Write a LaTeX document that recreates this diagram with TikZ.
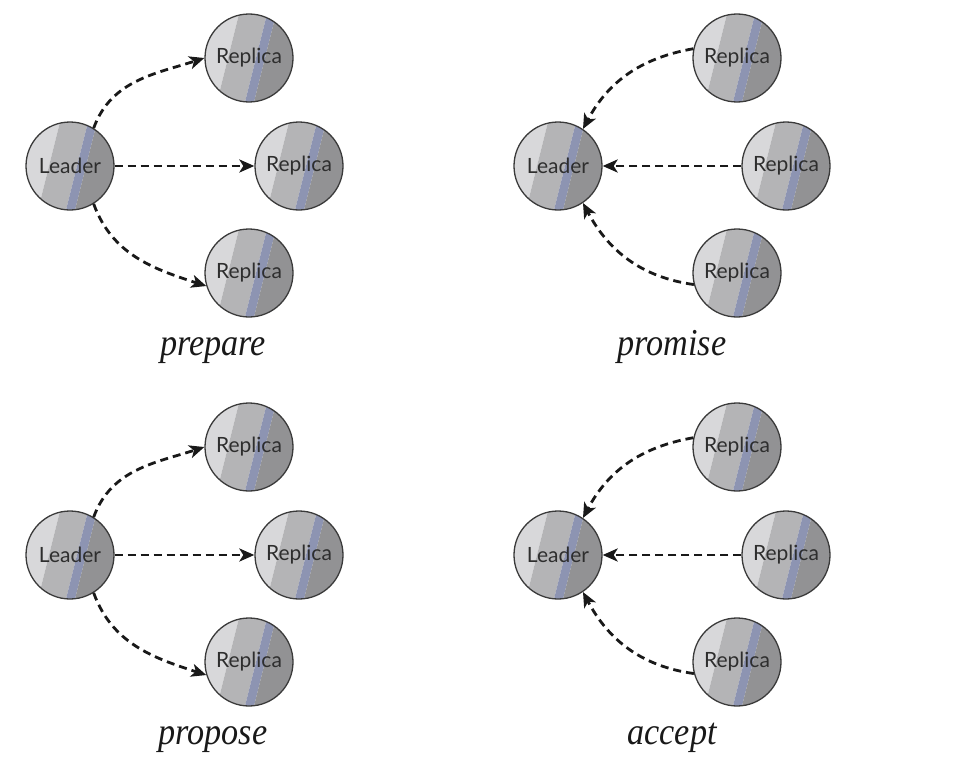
\documentclass[tikz,border=0pt]{standalone}
\usepackage{fontspec}
\usepackage{graphicx}
\usetikzlibrary{arrows.meta}
\newfontfamily\ballfont{Lato}
\newfontfamily\lblfont{Liberation Serif}
\definecolor{bLight}{HTML}{D8D8DA}
\definecolor{bMid}{HTML}{B4B4B6}
\definecolor{bBlue}{HTML}{8D94B2}
\definecolor{bDark}{HTML}{929294}
\definecolor{bRim}{HTML}{3A3A3A}
\definecolor{bText}{HTML}{2E2E2E}
\tikzset{
  ball/.style={circle, minimum size=88pt, inner sep=0pt, draw=bRim, line width=1.3pt,
    font=\ballfont\fontsize{21}{24}\selectfont, text=bText},
  msg/.style={-{Stealth[length=15pt,width=13pt,inset=4pt]}, line width=2.8pt,
    dash pattern=on 8pt off 5pt, black!90},
  phase/.style={anchor=base, font=\lblfont\fontsize{38}{40}\selectfont, text=black!90}
}
\newcommand{\phasetext}[1]{\scalebox{0.9}[1]{\itshape #1}}
% #1 name, #2 x, #3 y, #4 text
\newcommand{\ballnode}[4]{%
  \begin{scope}[shift={(#2,#3)}]
    \clip (0,0) circle (44);
    \fill[bLight] (-80,-60) -- (-6,-60) -- (-36,60) -- (-80,60) -- cycle;
    \fill[bMid] (-6,-60) -- (22,-60) -- (-8,60) -- (-36,60) -- cycle;
    \fill[bBlue] (22,-60) -- (31,-60) -- (1,60) -- (-8,60) -- cycle;
    \fill[bDark] (31,-60) -- (80,-60) -- (80,60) -- (1,60) -- cycle;
  \end{scope}
  \node[ball] (#1) at (#2,#3) {#4};}
\begin{document}
\begin{tikzpicture}[x=1pt,y=-1pt]
\useasboundingbox (0,0) rectangle (958,784);
% ---------- prepare ----------
\ballnode{pL}{70}{166}{Leader}
\ballnode{pR1}{249}{58}{Replica}
\ballnode{pR2}{299}{166}{Replica}
\ballnode{pR3}{249}{273}{Replica}
\node[phase] (pT) at (213,355) {\phasetext{prepare}};
\draw[msg] (pL.58) to[out=70,in=198] (pR1.180);
\draw[msg] (pL.east) -- (pR2.west);
\draw[msg] (pL.-58) to[out=-70,in=162] (pR3.197);
% ---------- promise ----------
\ballnode{mL}{558}{166}{Leader}
\ballnode{mR1}{737}{58}{Replica}
\ballnode{mR2}{786}{166}{Replica}
\ballnode{mR3}{737}{273}{Replica}
\node[phase] (mT) at (672,355) {\phasetext{promise}};
\draw[msg] (mR1.168) to[out=190,in=62] (mL.56);
\draw[msg] (mR2.west) -- (mL.east);
\draw[msg] (mR3.195) to[out=172,in=-62] (mL.-56);
% ---------- propose ----------
\ballnode{sL}{70}{555}{Leader}
\ballnode{sR1}{249}{447}{Replica}
\ballnode{sR2}{299}{555}{Replica}
\ballnode{sR3}{249}{662}{Replica}
\node[phase] (sT) at (213,744) {\phasetext{propose}};
\draw[msg] (sL.58) to[out=70,in=198] (sR1.180);
\draw[msg] (sL.east) -- (sR2.west);
\draw[msg] (sL.-58) to[out=-70,in=162] (sR3.197);
% ---------- accept ----------
\ballnode{aL}{558}{555}{Leader}
\ballnode{aR1}{737}{447}{Replica}
\ballnode{aR2}{786}{555}{Replica}
\ballnode{aR3}{737}{662}{Replica}
\node[phase] (aT) at (672,744) {\phasetext{accept}};
\draw[msg] (aR1.168) to[out=190,in=62] (aL.56);
\draw[msg] (aR2.west) -- (aL.east);
\draw[msg] (aR3.195) to[out=172,in=-62] (aL.-56);
\end{tikzpicture}
\end{document}
